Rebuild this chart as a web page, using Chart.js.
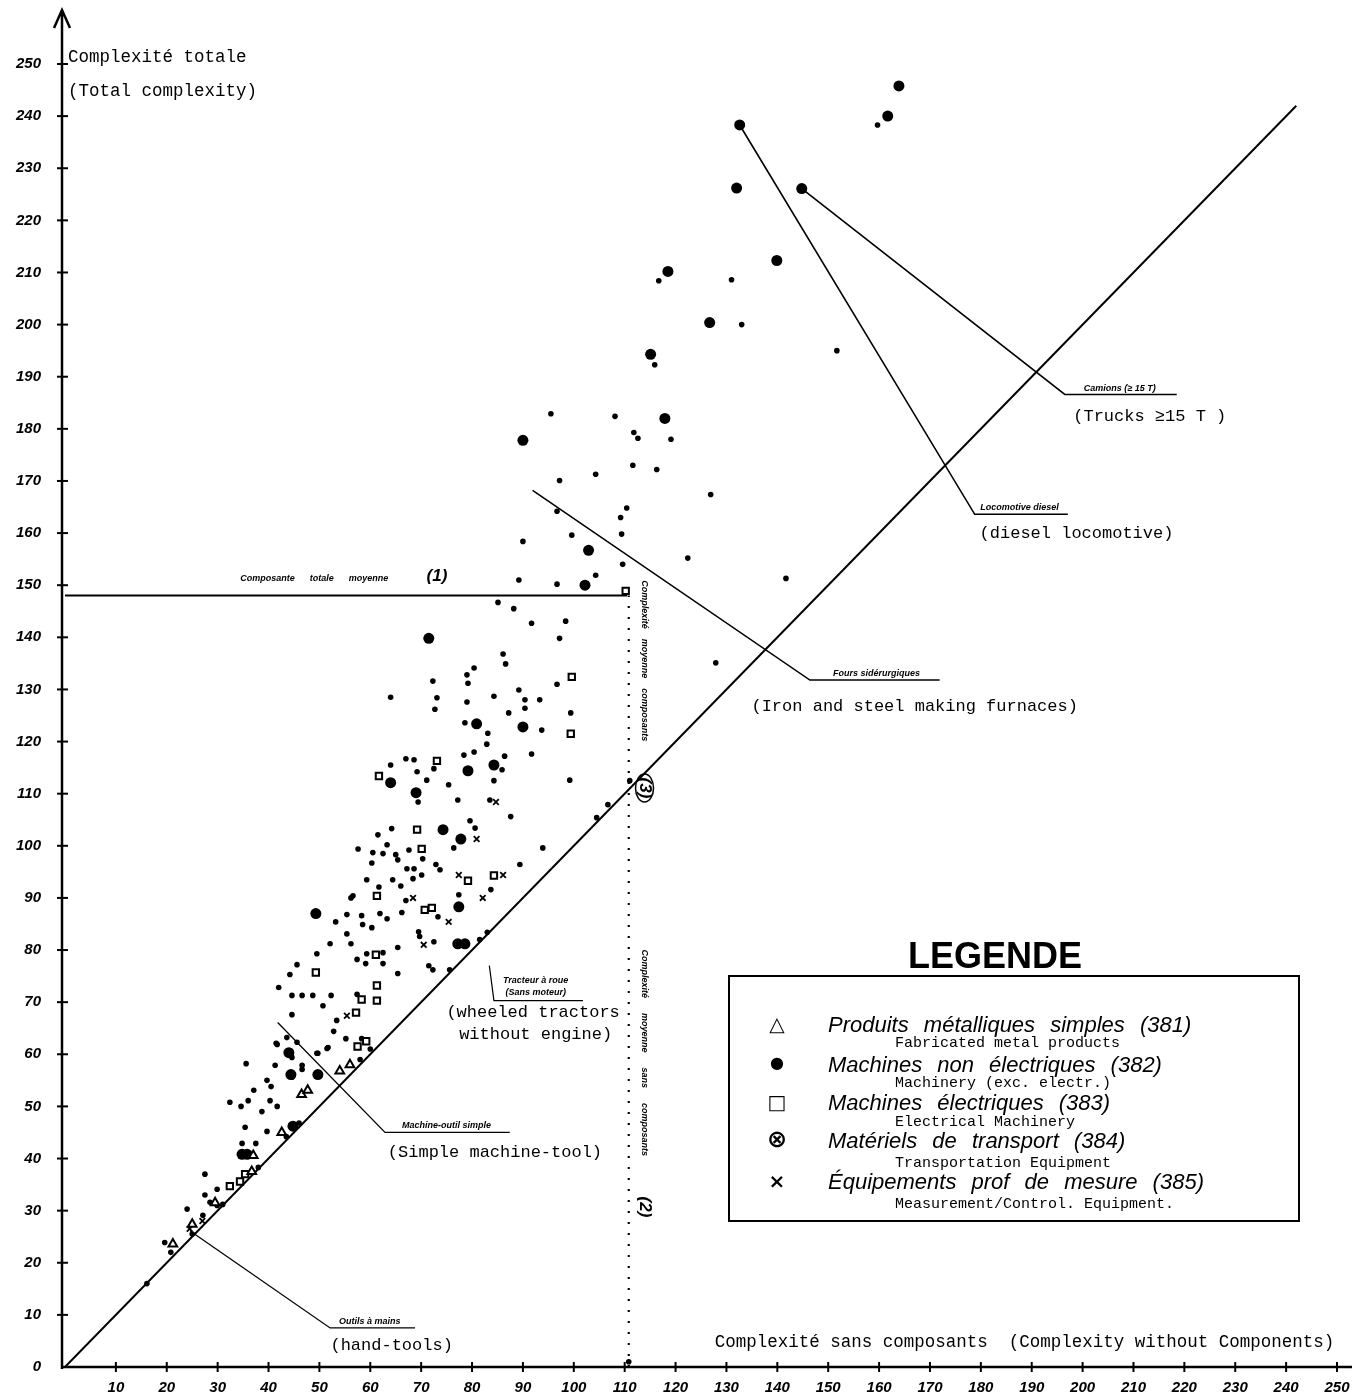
<!DOCTYPE html>
<html>
<head>
<meta charset="utf-8">
<script src="https://cdn.jsdelivr.net/npm/chart.js@4.4.1/dist/chart.umd.min.js"></script>
<style>
  body { margin: 0; background: #fff; }
  #wrap { position: relative; width: 1371px; height: 1400px; }
  .legend-title { position: absolute; left: 880px; top: 935px; width: 230px; text-align: center;
    font: bold 36px "Liberation Sans", sans-serif; color: #000; }
  .legend-box { position: absolute; left: 728px; top: 975px; width: 568px; height: 243px;
    border: 2px solid #000; }
  .sym { position: absolute; left: 34px; width: 26px; text-align: center; font: bold 20px "DejaVu Sans", sans-serif; }
  .fr { position: absolute; left: 98px; font: italic 22px "Liberation Sans", sans-serif; word-spacing: 9px; white-space: nowrap; }
  .en { position: absolute; left: 165px; font: 15px "Liberation Mono", monospace; white-space: nowrap; }
</style>
</head>
<body>
<div id="wrap">
  <canvas id="chart" width="1371" height="1400"></canvas>
  <div class="legend-title">LEGENDE</div>
  <div class="legend-box">
    <div class="sym" style="top:35px">△</div>
    <div class="fr" style="top:35px">Produits métalliques simples (381)</div>
    <div class="en" style="top:58px">Fabricated metal products</div>
    <div class="sym" style="top:76px;font-size:16px">●</div>
    <div class="fr" style="top:75px">Machines non électriques (382)</div>
    <div class="en" style="top:98px">Machinery (exc. electr.)</div>
    <div class="sym" style="top:113px">□</div>
    <div class="fr" style="top:113px">Machines électriques (383)</div>
    <div class="en" style="top:137px">Electrical Machinery</div>
    <div class="sym" style="top:150px;font-size:24px;line-height:24px">⊗</div>
    <div class="fr" style="top:151px">Matériels de transport (384)</div>
    <div class="en" style="top:178px">Transportation Equipment</div>
    <div class="sym" style="top:192px">×</div>
    <div class="fr" style="top:192px">Équipements prof de mesure (385)</div>
    <div class="en" style="top:219px">Measurement/Control. Equipment.</div>
  </div>
</div>
<script>
const { Chart } = window;

// axis ticks
const xTicks = [0, 10, 20, 30, 40, 50, 60, 70, 80, 90, 100, 110, 120, 130, 140, 150, 160, 170, 180, 190, 200, 210, 220, 230, 240, 250];
const yTicks = xTicks;

// 382 - large dots
const machLarge = [
  [163.9, 245.8], [161.7, 240.0], [132.6, 238.3], [132.0, 226.2], [144.8, 226.1], [139.9, 212.3],
  [118.5, 210.2], [126.7, 200.4], [115.1, 194.3], [117.9, 182.0], [90.0, 177.8], [102.9, 156.7],
  [102.2, 150.0], [71.5, 139.8], [80.9, 123.4], [90.0, 122.8], [64.0, 112.1], [79.2, 114.4],
  [84.3, 115.5], [69.0, 110.2], [74.3, 103.1], [77.8, 101.3], [77.4, 88.3], [49.3, 87.0],
  [77.2, 81.2], [78.6, 81.2], [44.0, 60.3], [44.4, 56.1], [49.7, 56.1], [34.8, 40.8],
  [35.8, 40.8], [44.8, 46.2],
];

// small dots
const machSmall = [
  [159.7, 238.3], [116.7, 208.4], [131.0, 208.6], [133.0, 200.0], [115.9, 192.3], [151.7, 195.0],
  [95.5, 182.9], [108.1, 182.4], [111.8, 179.3], [112.6, 178.2], [119.1, 178.0], [111.6, 173.0],
  [116.3, 172.2], [104.3, 171.3], [97.2, 170.1], [126.9, 167.4], [96.7, 164.2], [110.4, 164.8],
  [109.2, 163.0], [109.4, 159.8], [90.0, 158.4], [99.6, 159.6], [109.6, 154.0], [122.4, 155.2],
  [104.3, 151.9], [89.2, 151.0], [96.7, 150.2], [141.7, 151.3], [85.1, 146.7], [88.2, 145.5],
  [91.7, 142.7], [98.4, 143.1], [97.2, 139.8], [86.1, 136.8], [86.6, 134.9], [127.9, 135.1],
  [80.4, 134.1], [79.0, 132.8], [79.2, 131.2], [72.3, 131.6], [96.7, 131.0],
  [64.0, 128.5], [73.1, 128.4], [72.7, 126.2], [79.0, 127.6], [84.3, 128.7], [89.2, 129.9],
  [90.4, 128.0], [90.4, 126.4], [93.3, 128.0], [87.2, 125.5], [99.4, 125.5], [78.6, 123.6],
  [93.7, 122.2], [83.1, 121.6], [82.9, 119.5], [78.4, 117.4], [80.4, 118.0], [86.4, 117.2],
  [91.7, 117.6], [64.0, 115.5], [67.0, 116.7], [68.6, 116.5], [72.5, 114.8], [69.2, 114.2],
  [85.9, 114.6], [71.1, 112.6], [75.4, 111.7], [84.3, 112.5], [99.2, 112.6], [69.4, 108.4],
  [77.2, 108.8], [83.5, 108.8], [87.6, 105.6], [79.6, 104.8], [80.6, 103.4], [64.2, 103.3],
  [61.5, 102.1], [76.4, 99.6], [93.9, 99.6], [57.6, 99.4], [60.5, 98.7], [62.5, 98.5],
  [65.0, 98.3], [67.6, 99.2], [70.3, 97.5], [60.3, 96.7], [65.4, 97.3], [72.9, 96.4],
  [73.7, 95.4], [67.2, 95.6], [68.6, 95.6], [70.1, 94.4], [89.4, 96.4], [59.3, 93.5],
  [64.4, 93.5], [66.0, 92.3], [61.7, 92.1], [83.7, 91.6], [77.4, 90.6], [56.6, 90.4],
  [63.3, 100.2], [68.4, 93.7], [67.0, 89.5], [66.2, 87.2], [56.2, 90.0], [55.4, 86.8],
  [58.3, 86.6], [58.5, 84.9], [53.2, 85.4], [61.9, 87.0], [63.3, 86.0], [60.3, 84.3],
  [73.3, 86.4], [69.5, 83.5], [69.7, 82.6], [72.5, 81.6], [55.4, 83.1], [52.1, 81.2],
  [56.2, 81.2], [49.5, 79.3], [57.4, 78.2], [59.3, 79.3], [59.1, 77.4], [62.5, 79.5],
  [62.5, 77.4], [65.4, 80.5], [65.4, 75.5], [71.5, 77.0], [72.3, 76.2], [75.6, 76.2],
  [45.6, 77.2], [44.2, 75.3], [42.0, 72.8], [44.6, 71.3], [46.6, 71.3], [48.7, 71.3],
  [52.3, 71.3], [50.7, 69.3], [57.4, 71.5], [44.6, 67.6], [53.4, 66.5], [52.8, 64.4],
  [55.2, 63.0], [58.3, 63.0], [49.5, 60.2], [51.7, 61.3], [43.6, 63.2], [45.6, 62.3],
  [41.7, 61.9], [35.6, 58.2], [41.3, 57.9], [41.5, 62.1], [44.6, 59.4], [46.6, 57.9],
  [46.6, 57.1], [44.6, 55.6], [49.7, 60.2], [51.5, 61.1], [39.7, 55.0], [40.5, 53.8],
  [37.1, 53.1], [32.4, 50.8], [34.6, 50.0], [36.0, 51.1], [38.7, 49.0], [40.3, 51.1],
  [41.7, 50.0], [35.4, 46.0], [39.7, 45.2], [34.8, 42.9], [37.5, 42.9], [27.5, 37.0],
  [29.9, 34.1], [27.5, 33.0], [28.5, 31.6], [29.9, 31.0], [24.0, 30.3], [27.1, 29.1],
  [19.6, 23.9], [20.8, 22.0],
  [16.1, 16.0], [25.0, 25.5], [31.0, 31.2], [38.0, 38.3], [43.5, 44.2], [46.0, 46.8],
  [58.0, 59.0], [60.0, 61.0], [81.5, 82.0], [83.0, 83.4], [104.5, 105.4], [106.7, 107.9],
  [111.0, 112.5], [110.8, 1.0],
];

// 383 - squares
const electSquares = [
  [110.2, 148.9], [99.6, 132.4], [99.4, 121.5], [73.1, 116.3], [61.7, 113.4], [69.2, 103.1],
  [70.1, 99.4], [61.3, 90.4], [79.2, 93.3], [84.3, 94.3], [70.7, 87.7], [72.1, 88.1],
  [61.1, 79.1], [49.3, 75.7], [61.3, 73.2], [61.3, 70.3], [58.3, 70.5], [57.2, 68.0],
  [32.4, 34.7], [34.4, 35.6], [35.4, 37.0], [57.5, 61.5], [59.2, 62.5],
];

// 381 - triangles
const metalTriangles = [
  [54.0, 56.8], [46.5, 52.3], [47.7, 53.1], [37.0, 40.6], [21.2, 23.6], [25.0, 27.4],
  [42.6, 45.0], [56.0, 58.0], [29.5, 31.5], [36.7, 37.5],
];

// 385 - crosses
const measureCrosses = [
  [84.7, 108.4], [80.9, 101.3], [77.4, 94.4], [86.1, 94.4], [82.1, 90.0], [68.4, 90.0],
  [75.4, 85.4], [70.5, 81.0], [55.4, 67.4], [27.0, 28.0], [24.5, 26.5],
];

// reference lines
const diagonal = [[0, 0], [242, 242]];
const meanTotal = [[0, 148], [110.3, 148], [110.3, 149.5]];
const meanWithout = [[110.8, 0], [110.8, 148]];

// leader lines to the named products
const leaderTrucks = [[144.8, 226.1], [196.5, 186.6], [218.5, 186.6]];
const leaderLoco = [[132.6, 238.3], [178.8, 163.6], [197.1, 163.6]];
const leaderFurnace = [[91.9, 168.2], [146.4, 131.8], [171.9, 131.8]];
const leaderTractor = [[83.4, 77.0], [84.3, 70.3], [101.8, 70.3]];
const leaderTool = [[41.8, 66.1], [62.9, 45.0], [87.4, 45.0]];
const leaderHand = [[24.6, 26.1], [52.1, 7.5], [68.8, 7.5]];

// texts on the plot: [text, x, y, kind]
const notes = [
  ['Camions (≥ 15 T)', 207.3, 187.8, 'tag'],
  ['(Trucks ≥15 T )', 213.2, 182.4, 'mono'],
  ['Locomotive diesel', 187.6, 165.0, 'tag'],
  ['(diesel locomotive)', 198.8, 160.0, 'mono'],
  ['Fours sidérurgiques', 159.5, 133.0, 'tag'],
  ['(Iron and steel making furnaces)', 167.0, 126.8, 'mono'],
  ['Tracteur à roue', 92.5, 74.2, 'tag'],
  ['(Sans moteur)', 92.5, 71.8, 'tag'],
  ['(wheeled tractors', 92.0, 68.0, 'mono'],
  ['without engine)', 92.5, 63.8, 'mono'],
  ['Machine-outil simple', 75.0, 46.4, 'tag'],
  ['(Simple machine-tool)', 84.5, 41.2, 'mono'],
  ['Outils à mains', 59.9, 8.7, 'tag'],
  ['(hand-tools)', 64.2, 4.2, 'mono'],
  ['Composante      totale      moyenne', 49.0, 151.3, 'tag'],
  ['(1)', 73.1, 151.8, 'num'],
];

const toXY = (arr) => arr.map(([x, y]) => ({ x, y }));

const lineSet = (data, extra = {}) => ({
  type: 'scatter',
  data: toXY(data),
  showLine: true,
  borderColor: '#000',
  borderWidth: 1.6,
  pointRadius: 0,
  tension: 0,
  ...extra,
});

const overlay = {
  id: 'overlay',
  afterDraw(chart) {
    const { ctx, scales: { x, y } } = chart;
    const x0 = x.getPixelForValue(0);
    const y0 = y.getPixelForValue(0);
    ctx.save();
    ctx.strokeStyle = '#000';
    ctx.fillStyle = '#000';
    ctx.lineWidth = 2.5;
    // axes with arrow
    ctx.beginPath();
    ctx.moveTo(x0 - 3, y0 + 2);
    ctx.lineTo(x0 - 3, 10);
    ctx.moveTo(x0 - 11, 28);
    ctx.lineTo(x0 - 3, 10);
    ctx.lineTo(x0 + 5, 28);
    ctx.moveTo(x0 - 3, y0);
    ctx.lineTo(1352, y0);
    ctx.stroke();
    ctx.lineWidth = 2;
    yTicks.forEach((v) => {
      if (!v) return;
      const p = y.getPixelForValue(v);
      ctx.beginPath();
      ctx.moveTo(x0 - 8, p);
      ctx.lineTo(x0 + 3, p);
      ctx.stroke();
    });
    xTicks.forEach((v) => {
      if (!v) return;
      const p = x.getPixelForValue(v);
      ctx.beginPath();
      ctx.moveTo(p, y0 - 5);
      ctx.lineTo(p, y0 + 5);
      ctx.stroke();
    });

    // axis titles
    ctx.font = '17.5px "Liberation Mono", monospace';
    ctx.textBaseline = 'middle';
    ctx.textAlign = 'left';
    ctx.fillText('Complexité totale', x.getPixelForValue(0.6), y.getPixelForValue(251.3));
    ctx.fillText('(Total complexity)', x.getPixelForValue(0.6), y.getPixelForValue(244.8));
    ctx.fillText('Complexité sans composants  (Complexity without Components)',
      x.getPixelForValue(127.7), y.getPixelForValue(4.8));

    // notes
    ctx.textAlign = 'center';
    notes.forEach(([t, vx, vy, kind]) => {
      if (kind === 'tag') ctx.font = 'italic bold 9px "Liberation Sans", sans-serif';
      else if (kind === 'num') ctx.font = 'italic bold 17px "Liberation Sans", sans-serif';
      else ctx.font = '17px "Liberation Mono", monospace';
      ctx.fillText(t, x.getPixelForValue(vx), y.getPixelForValue(vy));
    });

    // rotated texts along the dotted line
    const vert = (t, vy, size) => {
      ctx.save();
      ctx.translate(x.getPixelForValue(113.9), y.getPixelForValue(vy));
      ctx.rotate(Math.PI / 2);
      ctx.font = `italic bold ${size}px "Liberation Sans", sans-serif`;
      ctx.fillText(t, 0, 0);
      ctx.restore();
    };
    vert('Complexité    moyenne    composants', 135.5, 9);
    vert('(3)', 111.1, 17);
    vert('Complexité      moyenne      sans      composants', 60.3, 9);
    vert('(2)', 30.7, 17);
    ctx.lineWidth = 1.5;
    ctx.beginPath();
    ctx.ellipse(x.getPixelForValue(113.9), y.getPixelForValue(111.1), 9, 14, 0, 0, Math.PI * 2);
    ctx.stroke();
    ctx.restore();
  },
};

const ctx = document.getElementById('chart').getContext('2d');
const tickFont = { family: '"Liberation Sans", sans-serif', size: 15, style: 'italic', weight: 'bold' };

new Chart(ctx, {
  type: 'scatter',
  data: {
    datasets: [
      {
        label: 'Produits métalliques simples (381)',
        data: toXY(metalTriangles),
        pointStyle: 'triangle',
        pointRadius: 5,
        backgroundColor: '#fff',
        borderColor: '#000',
        borderWidth: 2,
      },
      {
        label: 'Machines électriques (383)',
        data: toXY(electSquares),
        pointStyle: 'rect',
        pointRadius: 4.5,
        backgroundColor: '#fff',
        borderColor: '#000',
        borderWidth: 2,
      },
      {
        label: 'Équipements prof de mesure (385)',
        data: toXY(measureCrosses),
        pointStyle: 'crossRot',
        pointRadius: 4,
        borderColor: '#000',
        borderWidth: 1.8,
      },
      {
        label: 'Machines non électriques (382)',
        data: toXY(machLarge),
        pointStyle: 'circle',
        pointRadius: 5.5,
        backgroundColor: '#000',
        borderColor: '#000',
        borderWidth: 0,
      },
      {
        label: 'autres',
        data: toXY(machSmall),
        pointStyle: 'circle',
        pointRadius: 2.8,
        backgroundColor: '#000',
        borderColor: '#000',
        borderWidth: 0,
      },
      lineSet(diagonal, { borderWidth: 2 }),
      lineSet(meanTotal, { borderWidth: 2 }),
      lineSet(meanWithout, { borderWidth: 2.2, borderDash: [2, 9] }),
      lineSet(leaderTrucks),
      lineSet(leaderLoco),
      lineSet(leaderFurnace),
      lineSet(leaderTractor, { borderWidth: 1.2 }),
      lineSet(leaderTool, { borderWidth: 1.3 }),
      lineSet(leaderHand, { borderWidth: 1.3 }),
    ],
  },
  options: {
    responsive: false,
    animation: false,
    events: [],
    layout: { padding: { left: 0, top: 64, right: 34, bottom: 0 } },
    plugins: { legend: { display: false }, tooltip: { enabled: false } },
    scales: {
      x: {
        type: 'linear',
        min: 0,
        max: 250,
        afterFit: (s) => { s.height = 30; },
        afterBuildTicks: (s) => { s.ticks = xTicks.map((v) => ({ value: v })); },
        grid: { display: false, drawTicks: false },
        border: { display: false },
        ticks: {
          color: '#000',
          font: tickFont,
          padding: 12,
          maxRotation: 0,
          autoSkip: false,
          callback: (v) => (v === 0 ? '' : v),
        },
      },
      y: {
        type: 'linear',
        min: 0,
        max: 250,
        afterFit: (s) => { s.width = 65; },
        afterBuildTicks: (s) => { s.ticks = yTicks.map((v) => ({ value: v })); },
        grid: { display: false, drawTicks: false },
        border: { display: false },
        ticks: { color: '#000', font: tickFont, padding: 24, autoSkip: false },
      },
    },
  },
  plugins: [overlay],
});
</script>
</body>
</html>
